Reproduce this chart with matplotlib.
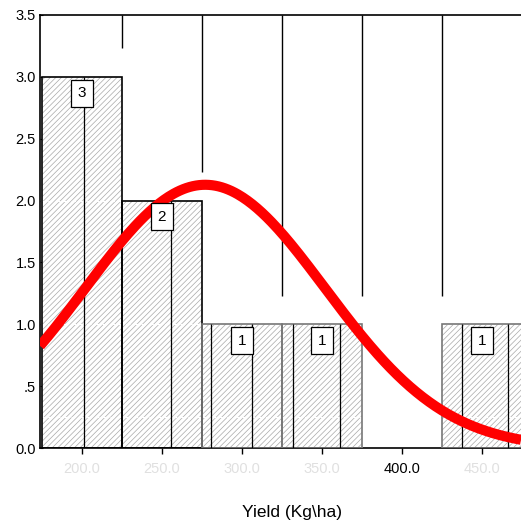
import numpy as np
import matplotlib
matplotlib.use("Agg")
import matplotlib.pyplot as plt

# ---- data ----
bin_centers = [200.0, 250.0, 300.0, 350.0, 400.0, 450.0]
counts = [3, 2, 1, 1, 0, 1]
bin_width = 50.0
x_tick_labels = ["200.0", "250.0", "300.0", "350.0", "400.0", "450.0"]
y_ticks = [0.0, 0.5, 1.0, 1.5, 2.0, 2.5, 3.0, 3.5]
y_tick_labels = ["0.0", ".5", "1.0", "1.5", "2.0", "2.5", "3.0", "3.5"]
curve_mean = 277.0
curve_sd = 75.0
n_total = sum(counts)
x_label = "Yield (Kg\\ha)"

plt.rcParams['font.family'] = ['Liberation Sans', 'DejaVu Sans']
plt.rcParams['hatch.linewidth'] = 0.5

fig = plt.figure(figsize=(5.21, 5.24), dpi=100)
ax = fig.add_axes([40/521, (524-448)/524, 481/521, (448-15)/524])
xmin, xmax = 173.75, 474.4
ax.set_xlim(xmin, xmax)
ax.set_ylim(0, 3.5)

# style: offsets of the inner split lines within each bar (fraction of bin width)
inner_offsets = [[0.03], [0.11], [-0.39, 0.12], [-0.36, 0.22], [], [-0.25, 0.32]]
edge_cols = ['black', 'black', '#777777', '#777777', '#777777', '#777777']

for c, n, ec, offs in zip(bin_centers, counts, edge_cols, inner_offsets):
    if n == 0:
        continue
    # hatch layer
    ax.bar(c, n, width=bin_width, facecolor='white', edgecolor='#a8a8a8',
           hatch='//////', linewidth=0, zorder=2)
    # outline
    ax.bar(c, n, width=bin_width, fill=False, edgecolor=ec, linewidth=1.2, zorder=3)
    for o in offs:
        ax.vlines(c + o * bin_width, 0, n, colors='black', linewidth=0.9, zorder=3)

# white dotted grid over bar hatching
for gy in [0.25, 1.0, 2.0]:
    ax.axhline(gy, color='white', linewidth=0.8, linestyle=(0, (4, 3)), zorder=2.5)

# vertical lines from top at inner bin edges
for i in range(len(bin_centers) - 1):
    edge = bin_centers[i] + bin_width / 2
    low = max(counts[i], counts[i + 1]) + 0.23
    ax.vlines(edge, low, 3.5, colors='black', linewidth=1.0, zorder=3)

# count boxes
for c, n in zip(bin_centers, counts):
    if n == 0:
        continue
    ax.text(c, n - 0.075, str(n), ha='center', va='top', fontsize=11, zorder=6,
            bbox=dict(boxstyle='square,pad=0.42', facecolor='white',
                      edgecolor='black', linewidth=0.9))

# normal curve
xs = np.linspace(xmin, xmax, 300)
ys = n_total * bin_width / (curve_sd * np.sqrt(2 * np.pi)) * np.exp(-0.5 * ((xs - curve_mean) / curve_sd) ** 2)
ax.plot(xs, ys, color='#ff0000', linewidth=7.3, solid_capstyle='butt', zorder=5)

# axes styling
ax.spines['right'].set_visible(False)
for s in ['left', 'bottom', 'top']:
    ax.spines[s].set_linewidth(1.2)
ax.set_xticks(bin_centers)
ax.set_xticklabels(x_tick_labels, fontsize=10.5)
for lbl, tk in zip(ax.get_xticklabels(), ax.xaxis.get_major_ticks()):
    dark = lbl.get_text() == "400.0"
    lbl.set_color('black' if dark else '#e0e0e0')
    tk.tick1line.set_color('black' if dark else '#e8e8e8')
ax.tick_params(axis='x', length=4, width=1, direction='out', pad=6)
ax.set_yticks(y_ticks)
ax.set_yticklabels(y_tick_labels, fontsize=10.5)
ax.tick_params(axis='y', length=2, width=0.8, direction='in', pad=3)

fig.text(292/521, 1 - 513/524, x_label, ha='center', va='center', fontsize=12.5)

fig.savefig("out.png", dpi=100)
